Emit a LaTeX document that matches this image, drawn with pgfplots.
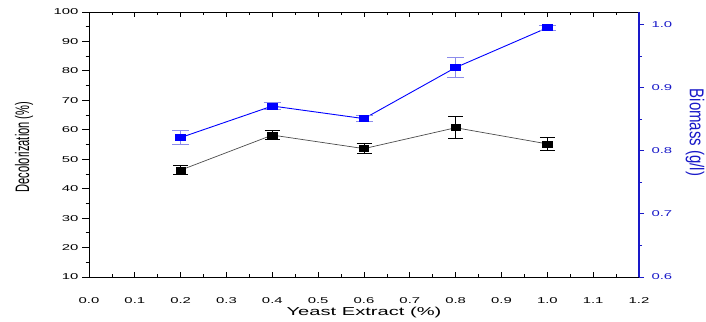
\documentclass[border=0pt]{standalone}
\usepackage{pgfplots}
\pgfplotsset{compat=1.18}
\usepackage{fontspec}
\setmainfont{Liberation Sans}
\newfontfamily\hfont[FakeStretch=1.75]{Liberation Sans}
\newfontfamily\vfont[FakeStretch=0.57]{Liberation Sans}
\newfontfamily\rfont[FakeStretch=0.75]{Liberation Sans}
\definecolor{axblue}{RGB}{25,25,200}
\definecolor{barblue}{RGB}{140,140,235}
\begin{document}
\begin{tikzpicture}
\path[use as bounding box] (-89pt,-44pt) rectangle (617pt,277pt);
\pgfplotsset{every axis/.append style={scale only axis, width=550pt, height=265pt,
  xmin=0, xmax=1.2, at={(0pt,0pt)}, anchor=south west,
  /pgf/number format/assume math mode=true}}
% x axis box
\begin{axis}[
  ymin=10, ymax=100, ytick=\empty,
  axis line style={black, line width=0.8pt},
  xtick={0,0.1,0.2,0.3,0.4,0.5,0.6,0.7,0.8,0.9,1.0,1.1,1.2},
  xticklabels={0.0,0.1,0.2,0.3,0.4,0.5,0.6,0.7,0.8,0.9,1.0,1.1,1.2},
  minor x tick num=1,
  tick align=inside,
  major tick length=5pt, minor tick length=3pt,
  tick style={black, line width=0.8pt},
  xticklabel style={font=\hfont\fontsize{8.5}{8.5}\selectfont, yshift=-17pt},
  xlabel={Yeast Extract (\%)},
  xlabel style={font=\hfont\fontsize{11.5}{12}\selectfont,
    at={(axis description cs:0.5,-0.133)}, anchor=center},
]
\end{axis}
% left y axis, decolorization
\begin{axis}[
  axis x line=none, axis y line*=left,
  ymin=10, ymax=100,
  ytick={10,20,30,40,50,60,70,80,90,100},
  minor y tick num=1,
  tick align=outside,
  major tick length=7pt, minor tick length=3.5pt,
  axis line style={black, line width=0.8pt},
  tick style={black, line width=0.8pt},
  yticklabel style={font=\hfont\fontsize{8.5}{8.5}\selectfont},
  ylabel={Decolorization (\%)},
  ylabel style={font=\vfont\fontsize{19.5}{19.5}\selectfont,
    at={(axis description cs:-0.118,0.49)}, anchor=center},
]
\addplot[black!70, line width=0.7pt, mark=square*, mark size=3pt,
  mark options={fill=black, draw=black, xscale=1.6, solid},
  error bars/.cd, y dir=both, y explicit,
  error bar style={black, line width=0.9pt},
  error mark options={rotate=90, mark size=7.5pt, black, line width=0.9pt}]
  coordinates {
  (0.2,46.3) +- (0,1.6)
  (0.4,58.2) +- (0,1.5)
  (0.6,53.6) +- (0,1.75)
  (0.8,60.7) +- (0,3.8)
  (1.0,55.2) +- (0,2.3)
  };
\end{axis}
% right y axis, biomass
\begin{axis}[
  axis x line=none, axis y line*=right,
  ymin=0.6, ymax=1.02,
  ytick={0.6,0.7,0.8,0.9,1.0},
  yticklabels={0.6,0.7,0.8,0.9,1.0},
  minor y tick num=1,
  tick align=outside,
  major tick length=5pt, minor tick length=3pt,
  axis line style={axblue, line width=1.1pt},
  tick style={axblue, line width=0.9pt},
  yticklabel style={font=\hfont\fontsize{8.5}{8.5}\selectfont, text=axblue, xshift=4pt},
  ylabel={Biomass (g/l)},
  ylabel style={font=\rfont\fontsize{20}{20}\selectfont, text=axblue,
    at={(axis description cs:1.102,0.545)}, anchor=center, rotate=180},
]
\addplot[blue, line width=0.9pt, mark=square*, mark size=3pt,
  mark options={fill=blue, draw=blue, xscale=1.6, solid},
  error bars/.cd, y dir=both, y explicit,
  error bar style={barblue, line width=0.8pt},
  error mark options={rotate=90, mark size=8.5pt, barblue, line width=0.8pt}]
  coordinates {
  (0.2,0.821) +- (0,0.0114)
  (0.4,0.871) +- (0,0.006)
  (0.6,0.851) +- (0,0.005)
  (0.8,0.932) +- (0,0.0153)
  (1.0,0.995) +- (0,0.004)
  };
\end{axis}
\end{tikzpicture}
\end{document}
